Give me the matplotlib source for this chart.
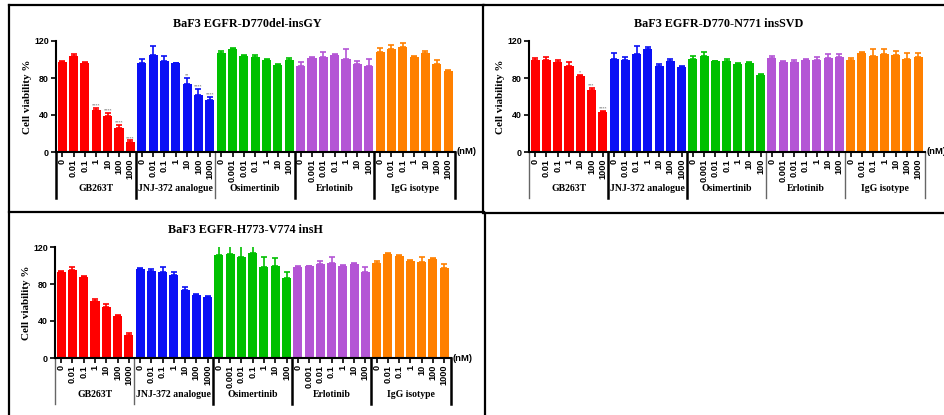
import numpy as np
import matplotlib
matplotlib.use("Agg")
import matplotlib.pyplot as plt
from matplotlib.transforms import blended_transform_factory
from matplotlib.lines import Line2D

groups = ["GB263T", "JNJ-372 analogue", "Osimertinib", "Erlotinib", "IgG isotype"]
colors = ["#ff0000", "#0a10f5", "#00c000", "#b455d5", "#ff8000"]
conc_a = ["0", "0.01", "0.1", "1", "10", "100", "1000"]
conc_b = ["0", "0.001", "0.01", "0.1", "1", "10", "100"]
tick_labels = conc_a + conc_a + conc_b + conc_b + conc_a

titles = ["BaF3 EGFR-D770del-insGY", "BaF3 EGFR-D770-N771 insSVD", "BaF3 EGFR-H773-V774 insH"]

p1_vals = [97, 104, 96, 45, 38.5, 26, 11,
           96, 105, 98, 96, 73, 62, 56.5,
           107, 111, 103.5, 103, 99, 94, 99,
           92.5, 101.5, 102.5, 105, 100, 95, 93,
           108, 111, 113, 102.5, 107, 95.5, 87.5]
p1_errs = [1.5, 1.5, 1, 3, 3.5, 3, 1.5,
           4, 10, 6, 0.5, 7, 6, 3,
           2, 1, 1, 2, 1, 1, 3,
           5, 1, 6, 1, 11, 3, 7,
           4, 5, 5, 1, 2, 4, 1]
p1_stars = ["", "", "", "****", "****", "****", "****",
            "", "", "", "", "**", "****", "****"] + [""] * 21

p2_vals = [99.5, 99.5, 97, 93, 82, 67.5, 43,
           100, 99.5, 105.5, 111, 93, 98, 92,
           100, 103.5, 98, 98, 95.5, 96.5, 83,
           101.5, 97.5, 97, 99.5, 99.5, 101.5, 102.5,
           99.5, 106.5, 103.5, 105.5, 105, 100.5, 102.5]
p2_errs = [2, 3, 2, 4, 1, 2, 1,
           7, 3, 9, 2, 2, 2, 1,
           4, 5, 0.5, 2, 0.5, 1, 1,
           2, 0.5, 2, 1, 3, 4, 3,
           2, 2, 8, 6, 4, 7, 5]
p2_stars = ["", "", "", "", "*", "***", "****"] + [""] * 28

p3_vals = [93.5, 95.5, 88, 62, 55.5, 45, 24.5,
           96, 94.5, 93.5, 90, 74, 68, 66,
           111.5, 112.5, 109, 113, 98.5, 99.5, 86,
           98.5, 99, 101.5, 102.5, 100, 102, 93,
           102.5, 112, 110.5, 105, 104, 107.5, 97.5]
p3_errs = [1, 3, 1, 2, 3, 1, 3,
           1.5, 2, 5, 2.5, 3, 1.5, 1,
           10, 9, 12, 8, 11, 8.5, 7,
           1, 1, 3.5, 6.5, 0.5, 1, 5,
           2.5, 1, 1, 1, 5.5, 1, 4]

W, H = 945, 415
fig = plt.figure(figsize=(W / 100, H / 100), dpi=100)


def px_axes(left, top, right, bottom):
    return fig.add_axes([left / W, 1 - bottom / H, (right - left) / W, (bottom - top) / H])


serif = ["Liberation Serif", "DejaVu Serif"]
sans = ["Liberation Sans", "DejaVu Sans"]
x = np.arange(35)
bar_colors = [c for c in colors for _ in range(7)]
x0, x1 = -0.55, 34.6


def draw_panel(ax, vals, errs, stars, title, seps):
    vals = np.array(vals)
    errs = np.array(errs)
    ax.bar(x, vals, width=0.8, color=bar_colors, zorder=2)
    for g, c in enumerate(colors):
        sl = slice(g * 7, g * 7 + 7)
        ax.errorbar(x[sl], vals[sl], yerr=[np.zeros(7), errs[sl]], fmt="none", ecolor=c,
                    elinewidth=1.2, capsize=2.2, capthick=1.2, zorder=1)
    for xi, v, e, s in zip(x, vals, errs, stars):
        if s:
            ax.text(xi, v + e + 0.5, s, ha="center", va="bottom", fontsize=3, color="#444444")
    ax.set_xlim(x0, x1)
    ax.set_ylim(0, 120)
    ax.set_yticks([0, 40, 80, 120])
    ax.set_xticks(x)
    ax.set_xticklabels(tick_labels, rotation=90, family=sans, fontweight="bold", fontsize=6.6)
    for lab in ax.get_yticklabels():
        lab.set_family(sans)
        lab.set_fontweight("bold")
        lab.set_fontsize(6.4)
    ax.tick_params(axis="both", direction="out", length=3.5, width=1.2, pad=1.5)
    for side in ["top", "right"]:
        ax.spines[side].set_visible(False)
    for side in ["left", "bottom"]:
        ax.spines[side].set_linewidth(1.5)
    ax.set_ylabel("Cell viability %", family=serif, fontweight="bold", fontsize=8, labelpad=2)
    ax.set_title(title, family=serif, fontweight="bold", fontsize=8.7, pad=10, x=0.48)
    ax.text(1.005, 0, "(nM)", transform=ax.transAxes, ha="left", va="center",
            family=sans, fontweight="bold", fontsize=6.8)
    tr = blended_transform_factory(ax.transData, ax.transAxes)
    bounds = [x0, 6.5, 13.5, 20.5, 27.5, x1]
    for b, dark in zip(bounds, seps):
        ax.add_line(Line2D([b, b], [0, -0.41], transform=tr, clip_on=False,
                           color="black" if dark else "#666666", lw=1.8 if dark else 1.0))
    for i, g in enumerate(groups):
        ax.text(bounds[i] / 2 + bounds[i + 1] / 2 if i else 3.0, -0.325, g, transform=tr,
                ha="center", va="center", family=serif, fontweight="bold", fontsize=7)
    ax.patch.set_alpha(0)


ax1 = px_axes(56, 41, 455, 152)
draw_panel(ax1, p1_vals, p1_errs, p1_stars, titles[0], [1, 1, 0, 1, 1, 1])
ax2 = px_axes(529, 41, 925, 152)
draw_panel(ax2, p2_vals, p2_errs, p2_stars, titles[1], [0, 1, 1, 0, 0, 0])
ax3 = px_axes(55, 247, 451, 358)
draw_panel(ax3, p3_vals, p3_errs, [""] * 35, titles[2], [0, 0, 1, 1, 1, 1])


# panel frames
def frame_line(xs, ys):
    fig.add_artist(Line2D([v / W for v in xs], [1 - v / H for v in ys], color="black", lw=1.6))


frame_line([9, 484], [5, 5])
frame_line([9, 9], [5, 415])
frame_line([9, 484], [212, 212])
frame_line([483, 483], [5, 213])
frame_line([485, 485], [213, 415])
frame_line([484, 945], [5, 5])
frame_line([484, 945], [213, 213])

fig.savefig("out.png", dpi=100)
